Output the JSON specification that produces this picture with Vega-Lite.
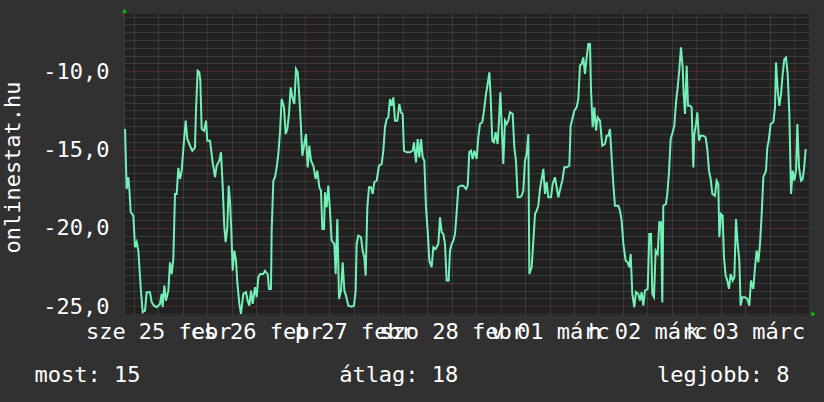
{
"$schema": "https://vega.github.io/schema/vega-lite/v6.json",
"width": 685, "height": 302,
"autosize": "none",
"padding": {"left": 124, "top": 14, "right": 15, "bottom": 86},
"background": "#313131",
"config": {"view": {"fill": "#212121", "stroke": null}, "font": "DejaVu Sans Mono"},
"data": {"values": [
{"h":3.85,"v":-13.68},{"h":4.25,"v":-17.51},{"h":4.66,"v":-16.76},{"h":4.91,"v":-17.51},{"h":5.24,"v":-18.98},{"h":5.89,"v":-19.21},{"h":6.30,"v":-21.23},{"h":6.71,"v":-20.91},{"h":7.12,"v":-21.45},{"h":7.69,"v":-23.78},{"h":8.18,"v":-25.38},{"h":8.75,"v":-25.28},{"h":9.16,"v":-24.10},{"h":9.98,"v":-24.10},{"h":10.39,"v":-24.74},{"h":10.96,"v":-24.96},{"h":11.62,"v":-25.06},{"h":12.43,"v":-24.85},{"h":12.84,"v":-24.21},{"h":13.09,"v":-25.06},{"h":13.49,"v":-23.68},{"h":13.90,"v":-24.64},{"h":14.48,"v":-24.00},{"h":14.89,"v":-22.19},{"h":15.30,"v":-22.94},{"h":15.70,"v":-21.98},{"h":16.11,"v":-17.83},{"h":16.52,"v":-17.83},{"h":16.93,"v":-16.17},{"h":17.34,"v":-16.87},{"h":17.75,"v":-16.34},{"h":18.16,"v":-14.96},{"h":18.73,"v":-13.15},{"h":19.14,"v":-14.32},{"h":19.79,"v":-14.75},{"h":20.36,"v":-15.07},{"h":21.02,"v":-14.85},{"h":21.26,"v":-12.51},{"h":21.67,"v":-9.96},{"h":22.08,"v":-10.06},{"h":22.33,"v":-10.60},{"h":22.66,"v":-13.68},{"h":23.23,"v":-13.79},{"h":23.72,"v":-13.15},{"h":24.04,"v":-14.43},{"h":24.70,"v":-14.43},{"h":25.35,"v":-15.81},{"h":25.93,"v":-16.76},{"h":26.34,"v":-16.02},{"h":26.99,"v":-15.71},{"h":27.40,"v":-15.17},{"h":27.81,"v":-17.30},{"h":28.21,"v":-19.96},{"h":28.54,"v":-20.91},{"h":28.95,"v":-19.96},{"h":29.28,"v":-17.30},{"h":29.61,"v":-18.26},{"h":29.93,"v":-20.17},{"h":30.26,"v":-22.73},{"h":30.67,"v":-21.45},{"h":31.08,"v":-22.09},{"h":31.40,"v":-23.47},{"h":31.90,"v":-24.85},{"h":32.30,"v":-25.49},{"h":32.88,"v":-24.21},{"h":33.53,"v":-24.10},{"h":33.94,"v":-24.64},{"h":34.35,"v":-24.96},{"h":34.76,"v":-24.00},{"h":35.17,"v":-24.85},{"h":35.74,"v":-23.78},{"h":36.15,"v":-24.42},{"h":36.56,"v":-23.15},
{"h":36.97,"v":-22.94},{"h":37.78,"v":-22.94},{"h":38.19,"v":-22.73},{"h":38.85,"v":-22.94},{"h":39.17,"v":-23.89},{"h":39.66,"v":-23.89},{"h":39.83,"v":-20.17},{"h":40.24,"v":-16.98},{"h":40.65,"v":-16.76},{"h":41.06,"v":-16.13},{"h":41.46,"v":-15.28},{"h":41.87,"v":-13.89},{"h":42.28,"v":-11.77},{"h":42.85,"v":-12.30},{"h":43.26,"v":-14.00},{"h":43.67,"v":-13.68},{"h":44.08,"v":-12.72},{"h":44.49,"v":-11.02},{"h":44.90,"v":-11.66},{"h":45.39,"v":-12.09},{"h":45.80,"v":-9.85},{"h":46.21,"v":-10.06},{"h":46.62,"v":-11.66},{"h":47.02,"v":-13.57},{"h":47.35,"v":-15.39},{"h":47.84,"v":-14.64},{"h":48.25,"v":-14.00},{"h":48.66,"v":-16.13},{"h":49.07,"v":-14.75},{"h":49.48,"v":-15.71},{"h":50.05,"v":-16.02},{"h":50.62,"v":-16.87},{"h":51.03,"v":-16.34},{"h":51.52,"v":-17.40},{"h":51.93,"v":-17.62},{"h":52.26,"v":-20.06},{"h":52.67,"v":-20.06},{"h":52.91,"v":-17.72},{"h":53.32,"v":-18.68},{"h":53.73,"v":-17.30},{"h":54.14,"v":-18.90},{"h":54.55,"v":-20.81},{"h":55.20,"v":-21.02},{"h":55.53,"v":-22.94},{"h":55.94,"v":-19.43},{"h":56.35,"v":-24.53},{"h":56.84,"v":-24.00},{"h":57.25,"v":-22.19},{"h":57.66,"v":-24.00},{"h":58.07,"v":-24.32},{"h":58.64,"v":-24.96},{"h":59.46,"v":-25.02},{"h":60.03,"v":-24.96},{"h":60.44,"v":-24.00},{"h":60.68,"v":-21.02},{"h":61.09,"v":-20.49},{"h":61.75,"v":-20.59},{"h":62.15,"v":-21.45},{"h":62.56,"v":-21.87},{"h":62.89,"v":-23.04},{"h":63.30,"v":-18.68},{"h":63.71,"v":-17.40},{"h":64.20,"v":-17.40},{"h":64.61,"v":-17.83},{"h":65.02,"v":-17.08},{"h":65.59,"v":-16.98},{"h":66.16,"v":-16.02},{"h":66.82,"v":-15.92},{"h":67.22,"v":-15.07},{"h":67.63,"v":-13.57},{"h":68.04,"v":-13.04},{"h":68.45,"v":-12.94},{"h":68.86,"v":-11.77},{"h":69.27,"v":-12.20},{"h":69.68,"v":-11.66},
{"h":70.09,"v":-13.15},{"h":70.66,"v":-13.15},{"h":71.15,"v":-12.09},{"h":71.56,"v":-12.62},{"h":71.97,"v":-12.72},{"h":72.29,"v":-15.07},{"h":72.95,"v":-15.17},{"h":73.77,"v":-15.17},{"h":74.42,"v":-15.07},{"h":74.75,"v":-14.53},{"h":75.24,"v":-15.81},{"h":75.65,"v":-14.32},{"h":76.06,"v":-15.49},{"h":76.47,"v":-14.32},{"h":76.88,"v":-15.49},{"h":77.28,"v":-15.71},{"h":77.69,"v":-18.68},{"h":78.10,"v":-20.17},{"h":78.51,"v":-22.09},{"h":79.08,"v":-22.51},{"h":79.49,"v":-21.23},{"h":80.06,"v":-21.34},{"h":80.72,"v":-21.02},{"h":81.13,"v":-19.32},{"h":81.54,"v":-20.27},{"h":81.94,"v":-20.38},{"h":82.35,"v":-21.02},{"h":82.76,"v":-23.36},{"h":83.25,"v":-23.36},{"h":83.58,"v":-21.45},{"h":83.99,"v":-21.02},{"h":84.40,"v":-20.81},{"h":84.81,"v":-20.38},{"h":85.22,"v":-19.00},{"h":85.62,"v":-17.40},{"h":86.20,"v":-17.30},{"h":86.85,"v":-17.30},{"h":87.51,"v":-17.51},{"h":87.92,"v":-17.30},{"h":88.32,"v":-15.17},{"h":88.73,"v":-15.07},{"h":89.14,"v":-15.60},{"h":89.55,"v":-15.07},{"h":90.12,"v":-15.60},{"h":90.53,"v":-14.21},{"h":90.94,"v":-13.36},{"h":91.51,"v":-13.25},{"h":91.92,"v":-12.51},{"h":92.41,"v":-11.45},{"h":92.82,"v":-10.81},{"h":93.23,"v":-10.06},{"h":93.56,"v":-11.66},{"h":93.96,"v":-14.43},{"h":94.37,"v":-14.53},{"h":94.78,"v":-13.89},{"h":95.27,"v":-14.64},{"h":95.60,"v":-13.15},{"h":95.93,"v":-11.34},{"h":96.26,"v":-13.36},{"h":96.66,"v":-15.92},{"h":97.07,"v":-13.15},{"h":97.48,"v":-13.36},{"h":97.89,"v":-13.15},{"h":98.30,"v":-12.62},{"h":98.96,"v":-12.72},{"h":99.36,"v":-14.85},{"h":99.77,"v":-15.71},{"h":100.18,"v":-18.04},{"h":100.75,"v":-18.04},{"h":101.16,"v":-17.94},{"h":101.57,"v":-17.62},{"h":101.98,"v":-15.71},
{"h":102.39,"v":-15.28},{"h":102.80,"v":-14.00},{"h":103.05,"v":-22.94},{"h":103.62,"v":-22.51},{"h":104.03,"v":-20.81},{"h":104.44,"v":-19.11},{"h":104.84,"v":-18.90},{"h":105.25,"v":-18.58},{"h":105.66,"v":-17.51},{"h":106.07,"v":-16.87},{"h":106.48,"v":-16.23},{"h":106.89,"v":-17.83},{"h":107.30,"v":-17.08},{"h":107.71,"v":-18.04},{"h":108.36,"v":-18.04},{"h":108.77,"v":-17.19},{"h":109.34,"v":-16.76},{"h":109.75,"v":-17.40},{"h":110.16,"v":-18.04},{"h":110.73,"v":-17.40},{"h":111.14,"v":-16.98},{"h":111.63,"v":-16.13},{"h":112.20,"v":-16.13},{"h":112.86,"v":-16.02},{"h":113.18,"v":-13.47},{"h":113.59,"v":-13.04},{"h":114.08,"v":-12.51},{"h":114.66,"v":-12.30},{"h":115.06,"v":-11.77},{"h":115.47,"v":-9.64},{"h":115.88,"v":-9.53},{"h":116.29,"v":-9.11},{"h":116.70,"v":-10.17},{"h":117.11,"v":-9.11},{"h":117.52,"v":-8.26},{"h":117.93,"v":-8.26},{"h":118.17,"v":-11.13},{"h":118.58,"v":-13.57},{"h":118.99,"v":-12.30},{"h":119.40,"v":-13.79},{"h":119.81,"v":-12.94},{"h":120.38,"v":-13.15},{"h":120.95,"v":-14.75},{"h":121.61,"v":-14.64},{"h":122.01,"v":-14.11},{"h":122.42,"v":-14.11},{"h":122.83,"v":-13.68},{"h":123.24,"v":-15.49},{"h":123.65,"v":-17.19},{"h":124.06,"v":-18.58},{"h":124.88,"v":-18.58},{"h":125.29,"v":-18.90},{"h":125.70,"v":-19.53},{"h":126.11,"v":-21.02},{"h":126.68,"v":-22.09},{"h":127.17,"v":-22.19},{"h":127.58,"v":-22.51},{"h":127.91,"v":-21.66},{"h":128.31,"v":-24.21},{"h":128.80,"v":-25.06},{"h":129.21,"v":-24.10},{"h":129.79,"v":-24.21},{"h":130.20,"v":-24.64},{"h":130.60,"v":-24.10},{"h":131.01,"v":-24.96},{"h":131.42,"v":-24.00},{"h":132.08,"v":-23.89},{"h":132.49,"v":-20.38},{"h":132.90,"v":-20.38},{"h":133.22,"v":-24.21},{"h":133.63,"v":-24.42},{"h":134.04,"v":-21.45},{"h":134.53,"v":-21.66},{"h":134.94,"v":-19.64},{"h":135.35,"v":-19.64},{"h":135.67,"v":-24.75},
{"h":135.92,"v":-18.58},{"h":136.57,"v":-18.47},{"h":136.90,"v":-17.83},{"h":137.31,"v":-16.45},{"h":137.72,"v":-14.32},{"h":138.21,"v":-13.89},{"h":138.62,"v":-13.47},{"h":139.03,"v":-11.98},{"h":139.44,"v":-11.02},{"h":139.85,"v":-9.85},{"h":140.25,"v":-8.47},{"h":140.66,"v":-9.74},{"h":140.91,"v":-11.45},{"h":141.24,"v":-12.72},{"h":141.65,"v":-9.64},{"h":141.97,"v":-12.20},{"h":142.46,"v":-12.20},{"h":142.87,"v":-12.30},{"h":143.28,"v":-16.13},{"h":143.53,"v":-14.00},{"h":143.94,"v":-13.36},{"h":144.26,"v":-12.62},{"h":144.67,"v":-14.43},{"h":145.08,"v":-14.11},{"h":145.73,"v":-14.11},{"h":146.30,"v":-14.21},{"h":146.71,"v":-14.96},{"h":147.12,"v":-16.34},{"h":147.53,"v":-16.87},{"h":147.94,"v":-17.83},{"h":148.59,"v":-17.94},{"h":149.00,"v":-16.98},{"h":149.41,"v":-17.19},{"h":149.66,"v":-20.59},{"h":150.07,"v":-19.11},{"h":150.48,"v":-19.21},{"h":150.80,"v":-21.87},{"h":151.21,"v":-23.04},{"h":151.62,"v":-23.36},{"h":152.03,"v":-23.89},{"h":152.44,"v":-22.94},{"h":152.93,"v":-23.36},{"h":153.34,"v":-23.15},{"h":153.75,"v":-19.43},{"h":154.16,"v":-21.02},{"h":154.57,"v":-22.09},{"h":154.89,"v":-24.96},{"h":155.30,"v":-24.42},{"h":155.95,"v":-24.42},{"h":156.53,"v":-24.53},{"h":157.02,"v":-24.96},{"h":157.43,"v":-23.36},{"h":158.00,"v":-23.89},{"h":158.41,"v":-22.51},{"h":158.82,"v":-21.45},{"h":159.23,"v":-22.19},{"h":159.64,"v":-21.02},{"h":160.05,"v":-19.11},{"h":160.46,"v":-16.76},{"h":161.11,"v":-16.34},{"h":161.44,"v":-14.85},{"h":161.77,"v":-14.43},{"h":162.26,"v":-13.36},{"h":162.91,"v":-13.25},{"h":163.32,"v":-12.30},{"h":163.57,"v":-9.43},{"h":163.98,"v":-11.24},{"h":164.39,"v":-12.20},{"h":164.80,"v":-11.45},{"h":165.20,"v":-10.17},{"h":165.61,"v":-9.22},{"h":166.02,"v":-9.11},{"h":166.43,"v":-10.17},{"h":166.84,"v":-12.72},{"h":167.25,"v":-17.83},{"h":167.66,"v":-16.34},{"h":168.07,"v":-16.98},{"h":168.48,"v":-16.34},{"h":168.80,"v":-13.36},{"h":169.21,"v":-16.13},{"h":169.70,"v":-16.98},{"h":170.11,"v":-16.87},{"h":170.44,"v":-16.23},{"h":170.85,"v":-14.96}
]},
"resolve": {"axis": {"x": "independent", "y": "independent"}},
"layer": [
{
"mark": {"type": "line", "strokeOpacity": 0},
"encoding": {
"x": {"field": "h", "type": "quantitative", "scale": {"domain": [3.6, 171.66], "nice": false, "zero": false},
"axis": {"orient": "bottom", "values": [6,12,18,30,36,42,54,60,66,78,84,90,102,108,114,126,132,138,150,156,162], "grid": true, "gridColor": "#555555", "gridDash": [1,1], "gridOpacity": 1, "labels": false, "ticks": false, "domain": false, "title": null, "maxExtent": 0, "minExtent": 0}},
"y": {"field": "v", "type": "quantitative", "scale": {"domain": [-25.62, -6.34], "nice": false, "zero": false},
"axis": {"orient": "left", "values": [-25.5,-24.5,-24,-23.5,-23,-22.5,-22,-21.5,-21,-20.5,-19.5,-19,-18.5,-18,-17.5,-17,-16.5,-16,-15.5,-14.5,-14,-13.5,-13,-12.5,-12,-11.5,-11,-10.5,-9.5,-9,-8.5,-8,-7.5,-7,-6.5], "grid": true, "gridColor": "#555555", "gridDash": [1,1], "gridOpacity": 1, "labels": false, "ticks": false, "domain": false, "title": null, "maxExtent": 0, "minExtent": 0}}
}
},
{
"mark": {"type": "line", "strokeOpacity": 0},
"encoding": {
"x": {"field": "h", "type": "quantitative", "scale": {"domain": [3.6, 171.66], "nice": false, "zero": false},
"axis": {"orient": "bottom", "values": [24,48,72,96,120,144,168], "grid": true, "gridColor": "#7a3434", "gridDash": [1,1], "gridOpacity": 1, "labels": false, "ticks": false, "domain": false, "title": null, "maxExtent": 0, "minExtent": 0}},
"y": {"field": "v", "type": "quantitative", "scale": {"domain": [-25.62, -6.34], "nice": false, "zero": false},
"axis": {"orient": "left", "values": [-25,-20,-15,-10], "grid": true, "gridColor": "#7a3434", "gridDash": [1,1], "gridOpacity": 1, "ticks": false, "domain": true, "domainColor": "#3a3a3a",
"labelExpr": "replace(replace(format(datum.value, '.1f'), '.', ','), '\u2212', '-')",
"labelFont": "DejaVu Sans Mono", "labelFontSize": 22, "labelColor": "#ffffff", "labelPadding": 15, "labelAlign": "right", "labelBaseline": "middle", "labelOverlap": false, "labelFlush": false, "labelBound": false,
"title": "onlinestat.hu", "titleFont": "DejaVu Sans Mono", "titleFontSize": 22, "titleFontWeight": "normal", "titleColor": "#ffffff", "titleAngle": -90, "titleX": -104.5, "titleY": 153, "titleAlign": "center", "titleBaseline": "alphabetic"}}
}
},
{
"mark": {"type": "line", "strokeOpacity": 0},
"encoding": {
"x": {"field": "h", "type": "quantitative", "scale": {"domain": [3.6, 171.66], "nice": false, "zero": false},
"axis": {"orient": "bottom", "values": [12,36,60,84,108,132,156], "grid": false, "ticks": false, "domain": true, "domainColor": "#3a3a3a",
"labelExpr": "datum.value == 12 ? 'sze 25 febr' : datum.value == 36 ? 'cs 26 febr' : datum.value == 60 ? 'p 27 febr' : datum.value == 84 ? 'szo 28 febr' : datum.value == 108 ? 'v 01 márc' : datum.value == 132 ? 'h 02 márc' : 'k 03 márc'",
"labelFont": "DejaVu Sans Mono", "labelFontSize": 22, "labelColor": "#ffffff", "labelBaseline": "alphabetic", "labelPadding": 22, "labelDx": 2.6, "labelAlign": "center", "labelOverlap": false, "labelFlush": false, "labelBound": false,
"title": "most: 15\u00a0\u00a0\u00a0\u00a0\u00a0\u00a0\u00a0\u00a0\u00a0\u00a0\u00a0\u00a0\u00a0\u00a0\u00a0átlag: 18\u00a0\u00a0\u00a0\u00a0\u00a0\u00a0\u00a0\u00a0\u00a0\u00a0\u00a0\u00a0\u00a0\u00a0\u00a0legjobb: 8",
"titleFont": "DejaVu Sans Mono", "titleFontSize": 22, "titleFontWeight": "normal", "titleColor": "#ffffff", "titleAngle": 0, "titleX": -90, "titleY": 65, "titleAlign": "left", "titleBaseline": "alphabetic"}},
"y": {"field": "v", "type": "quantitative", "scale": {"domain": [-25.62, -6.34], "nice": false, "zero": false}, "axis": null}
}
},
{
"mark": {"type": "line", "color": "#72f0b6", "strokeWidth": 2, "interpolate": "linear"},
"encoding": {
"x": {"field": "h", "type": "quantitative", "scale": {"domain": [3.6, 171.66], "nice": false, "zero": false}, "axis": null},
"y": {"field": "v", "type": "quantitative", "scale": {"domain": [-25.62, -6.34], "nice": false, "zero": false}, "axis": null}
}
},
{
"data": {"values": [{"arrow": "y"}]},
"mark": {"type": "point", "shape": "triangle-up", "filled": true, "color": "#00d000", "size": 22, "opacity": 1, "clip": false},
"encoding": {
"x": {"datum": 3.72, "type": "quantitative", "scale": {"domain": [3.6, 171.66], "nice": false, "zero": false}, "axis": null},
"y": {"datum": -6.13, "type": "quantitative", "scale": {"domain": [-25.62, -6.34], "nice": false, "zero": false}, "axis": null}
}
},
{
"data": {"values": [{"arrow": "x"}]},
"mark": {"type": "point", "shape": "triangle-right", "filled": true, "color": "#00d000", "size": 22, "opacity": 1, "clip": false},
"encoding": {
"x": {"datum": 172.76, "type": "quantitative", "scale": {"domain": [3.6, 171.66], "nice": false, "zero": false}, "axis": null},
"y": {"datum": -25.5, "type": "quantitative", "scale": {"domain": [-25.62, -6.34], "nice": false, "zero": false}, "axis": null}
}
}
]
}
